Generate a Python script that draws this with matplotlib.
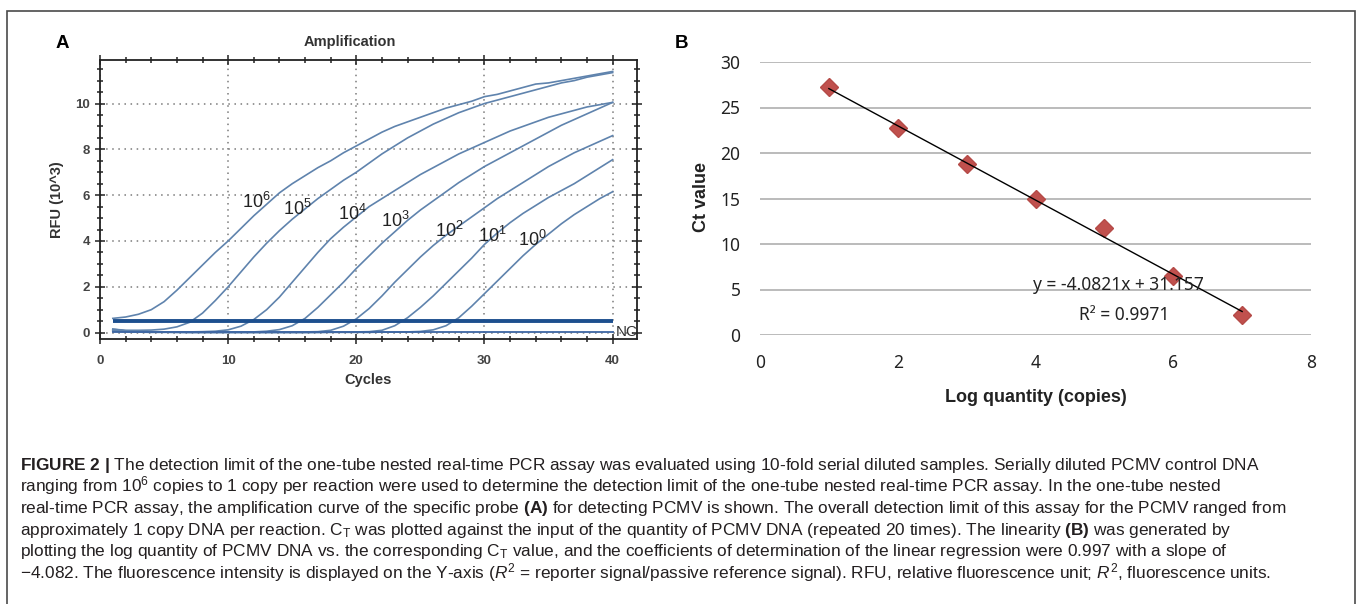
import numpy as np
import matplotlib
matplotlib.use("Agg")
import matplotlib.pyplot as plt
from matplotlib.patches import Rectangle
from matplotlib.ticker import MultipleLocator

plt.rcParams['mathtext.fontset'] = 'custom'
plt.rcParams['mathtext.rm'] = 'Liberation Sans'
plt.rcParams['mathtext.it'] = 'Liberation Sans:italic'
plt.rcParams['mathtext.bf'] = 'Liberation Sans:bold'

# ---- panel A: amplification curves (RFU x 10^3 per cycle) ----
cycles = list(range(1, 41))
rfu_1e6 = [0.62, 0.68, 0.80, 1.00, 1.35, 1.85, 2.40, 2.95, 3.50, 4.00,
           4.55, 5.10, 5.60, 6.10, 6.50, 6.85, 7.20, 7.50, 7.85, 8.15,
           8.45, 8.75, 9.00, 9.20, 9.40, 9.60, 9.80, 9.95, 10.10, 10.30,
           10.40, 10.55, 10.70, 10.85, 10.90, 11.00, 11.10, 11.20, 11.30, 11.40]
rfu_1e5 = [0.15, 0.10, 0.10, 0.11, 0.15, 0.25, 0.45, 0.85, 1.40, 2.00,
           2.65, 3.30, 3.90, 4.45, 4.95, 5.40, 5.85, 6.25, 6.65, 7.00,
           7.40, 7.80, 8.15, 8.50, 8.80, 9.10, 9.35, 9.60, 9.80, 10.00,
           10.15, 10.30, 10.45, 10.60, 10.75, 10.90, 11.00, 11.15, 11.25, 11.35]
rfu_1e4 = [0.15, 0.08, 0.05, 0.04, 0.03, 0.03, 0.03, 0.04, 0.06, 0.12,
           0.28, 0.57, 1.00, 1.55, 2.20, 2.85, 3.50, 4.10, 4.60, 5.05,
           5.50, 5.85, 6.20, 6.55, 6.90, 7.20, 7.50, 7.80, 8.05, 8.30,
           8.55, 8.80, 9.00, 9.20, 9.40, 9.55, 9.70, 9.85, 9.95, 10.05]
rfu_1e3 = [0.12, 0.07, 0.04, 0.03, 0.02, 0.02, 0.02, 0.02, 0.02, 0.02,
           0.02, 0.03, 0.06, 0.13, 0.30, 0.62, 1.10, 1.65, 2.20, 2.80,
           3.35, 3.90, 4.40, 4.90, 5.35, 5.75, 6.15, 6.55, 6.90, 7.25,
           7.55, 7.85, 8.15, 8.45, 8.75, 9.05, 9.30, 9.55, 9.80, 10.05]
rfu_1e2 = [0.10, 0.06, 0.04, 0.03, 0.02, 0.02, 0.02, 0.02, 0.02, 0.02,
           0.02, 0.02, 0.02, 0.02, 0.02, 0.03, 0.04, 0.10, 0.28, 0.60,
           1.05, 1.60, 2.20, 2.75, 3.30, 3.80, 4.25, 4.65, 5.05, 5.45,
           5.85, 6.20, 6.55, 6.90, 7.25, 7.55, 7.85, 8.10, 8.35, 8.60]
rfu_1e1 = [0.08, 0.05, 0.03, 0.02, 0.02, 0.01, 0.01, 0.01, 0.01, 0.01,
           0.01, 0.01, 0.01, 0.01, 0.01, 0.01, 0.02, 0.02, 0.02, 0.03,
           0.04, 0.10, 0.30, 0.65, 1.10, 1.60, 2.15, 2.70, 3.25, 3.85,
           4.35, 4.80, 5.20, 5.55, 5.90, 6.20, 6.50, 6.85, 7.20, 7.55]
rfu_1e0 = [0.06, 0.04, 0.02, 0.01, 0.01, 0.01, 0.00, 0.00, 0.00, 0.00,
           0.00, 0.00, 0.00, 0.00, 0.00, 0.00, 0.00, 0.01, 0.01, 0.01,
           0.01, 0.02, 0.02, 0.03, 0.05, 0.12, 0.30, 0.65, 1.15, 1.70,
           2.25, 2.80, 3.35, 3.85, 4.30, 4.75, 5.15, 5.50, 5.85, 6.15]
curves = [rfu_1e6, rfu_1e5, rfu_1e4, rfu_1e3, rfu_1e2, rfu_1e1, rfu_1e0]
curve_names = ['10$^{6}$', '10$^{5}$', '10$^{4}$', '10$^{3}$', '10$^{2}$',
               '10$^{1}$', '10$^{0}$']
nc_cycles = [1, 40]
nc_rfu = [0.02, 0.02]
threshold = 0.5

# ---- panel B: standard curve ----
log_qty = [1, 2, 3, 4, 5, 6, 7]
ct_value = [27.2, 22.7, 18.8, 15.0, 11.8, 6.5, 2.2]
slope, intercept = -4.0821, 31.157
r2 = 0.9971

caption_lines = [
    r"$\mathbf{FIGURE\ 2\ |}$ The detection limit of the one-tube nested real-time PCR assay was evaluated using 10-fold serial diluted samples. Serially diluted PCMV control DNA",
    r"ranging from 10$^{6}$ copies to 1 copy per reaction were used to determine the detection limit of the one-tube nested real-time PCR assay. In the one-tube nested",
    r"real-time PCR assay, the amplification curve of the specific probe $\mathbf{(A)}$ for detecting PCMV is shown. The overall detection limit of this assay for the PCMV ranged from",
    r"approximately 1 copy DNA per reaction. C$_{\mathrm{T}}$ was plotted against the input of the quantity of PCMV DNA (repeated 20 times). The linearity $\mathbf{(B)}$ was generated by",
    r"plotting the log quantity of PCMV DNA vs. the corresponding C$_{\mathrm{T}}$ value, and the coefficients of determination of the linear regression were 0.997 with a slope of",
    r"−4.082. The fluorescence intensity is displayed on the Y-axis ($R^{2}$ = reporter signal/passive reference signal). RFU, relative fluorescence unit; $R^{2}$, fluorescence units.",
]

W, H = 1357, 604
fig = plt.figure(figsize=(W / 100, H / 100), dpi=100)


def fx(x):
    return x / W


def fy(y):
    return 1 - y / H


# outer frame
fig.add_artist(Rectangle((fx(7), -0.05), fx(1355) - fx(7), fy(11) + 0.05,
                         transform=fig.transFigure, fill=False,
                         edgecolor='#4a4a4a', lw=1.2, clip_on=False))

# ================= panel A =================
axA = fig.add_axes([fx(100), fy(339), fx(637) - fx(100), fy(60) - fy(339)])
axA.set_xlim(0, 41.9)
axA.set_ylim(-0.28, 11.9)
axA.set_xticks([0, 10, 20, 30, 40])
axA.set_yticks([0, 2, 4, 6, 8, 10])
axA.xaxis.set_minor_locator(MultipleLocator(2))
axA.yaxis.set_minor_locator(MultipleLocator(0.5))
axA.grid(True, which='major', color='#7a7a7a', linestyle=(0, (1, 3)), lw=1.1)
axA.tick_params(which='both', direction='inout', top=True, right=True,
                width=1.1, color='#222222', labelsize=9.5, labelcolor='#444444')
axA.tick_params(which='major', length=7)
axA.tick_params(which='minor', length=5)
axA.tick_params(axis='x', pad=8)
for lab in axA.get_xticklabels() + axA.get_yticklabels():
    lab.set_fontweight('bold')
    lab.set_family('Liberation Sans')
for sp in axA.spines.values():
    sp.set_linewidth(1.3)
    sp.set_color('#222222')

for vals in curves:
    axA.plot(cycles, vals, color='#5f83ad', lw=1.2, zorder=3)
axA.plot(nc_cycles, nc_rfu, color='#3d66a3', lw=1.3, zorder=3)
axA.hlines(threshold, 1, 40, color='#1d4f8e', lw=2.8, zorder=4)

label_pos = [(11.05, 5.45), (14.3, 5.14), (18.6, 4.92), (21.9, 4.63),
             (26.1, 4.19), (29.5, 3.97), (32.6, 3.76)]
for name, (lx, ly) in zip(curve_names, label_pos):
    axA.text(lx, ly, name, fontsize=13, family='Liberation Sans',
             color='#222222', ha='left', va='baseline', zorder=5)
axA.text(40.25, 0.02, 'NC', fontsize=11, family='Liberation Sans',
         color='#333333', ha='left', va='center', zorder=5)

fig.text(fx(350), fy(42), 'Amplification', fontsize=10.5, weight='bold',
         family='Liberation Sans', color='#333333', ha='center', va='center')
fig.text(fx(368), fy(380), 'Cycles', fontsize=10.5, weight='bold',
         family='Liberation Sans', color='#333333', ha='center', va='center')
fig.text(fx(57), fy(200), 'RFU (10^3)', fontsize=10.5, weight='bold',
         family='Liberation Sans', color='#333333', ha='center', va='center',
         rotation=90)
fig.text(fx(62), fy(43), 'A', fontsize=13.5, weight='bold',
         family='Liberation Sans', ha='center', va='center')

# ================= panel B =================
axB = fig.add_axes([fx(760), fy(335), fx(1311) - fx(760), fy(62) - fy(335)])
axB.set_xlim(0, 8)
axB.set_ylim(0, 30)
axB.set_xticks([0, 2, 4, 6, 8])
axB.set_yticks([0, 5, 10, 15, 20, 25, 30])
axB.grid(True, axis='y', color='#a8a8a8', lw=1.1)
axB.set_axisbelow(True)
for sp in axB.spines.values():
    sp.set_visible(False)
axB.tick_params(length=0, labelsize=12.5, labelcolor='#222222')
axB.tick_params(axis='y', pad=14)
axB.tick_params(axis='x', pad=14)
for lab in axB.get_xticklabels() + axB.get_yticklabels():
    lab.set_family('Noto Sans')

axB.plot(log_qty, ct_value, linestyle='none', marker='D', ms=9.5,
         color='#c0504d', mec='#b54a47', zorder=3)
fit_x = np.array([log_qty[0], log_qty[-1]])
axB.plot(fit_x, slope * fit_x + intercept, color='black', lw=1.0, zorder=4)
axB.text(3.97, 5.5, 'y = -4.0821x + 31.157', fontsize=12.5, family='Noto Sans',
         color='#222222', ha='left', va='center', zorder=5)
axB.text(4.63, 2.2, 'R² = {:.4f}'.format(r2), fontsize=12.5, family='Noto Sans',
         color='#222222', ha='left', va='center', zorder=5)

fig.text(fx(702), fy(197), 'Ct value', fontsize=13, weight='bold',
         family='Liberation Sans', color='#222222', ha='center', va='center',
         rotation=90)
fig.text(fx(1036), fy(397), 'Log quantity (copies)', fontsize=13,
         weight='bold', family='Liberation Sans', color='#222222',
         ha='center', va='center')
fig.text(fx(682), fy(43), 'B', fontsize=13.5, weight='bold',
         family='Liberation Sans', ha='center', va='center')

# ================= caption =================
for i, line in enumerate(caption_lines):
    fig.text(fx(20), fy(470 + 21.6 * i), line, fontsize=12.4,
             family='Liberation Sans', color='#231f20', ha='left',
             va='baseline')

fig.savefig('out.png', dpi=100)
